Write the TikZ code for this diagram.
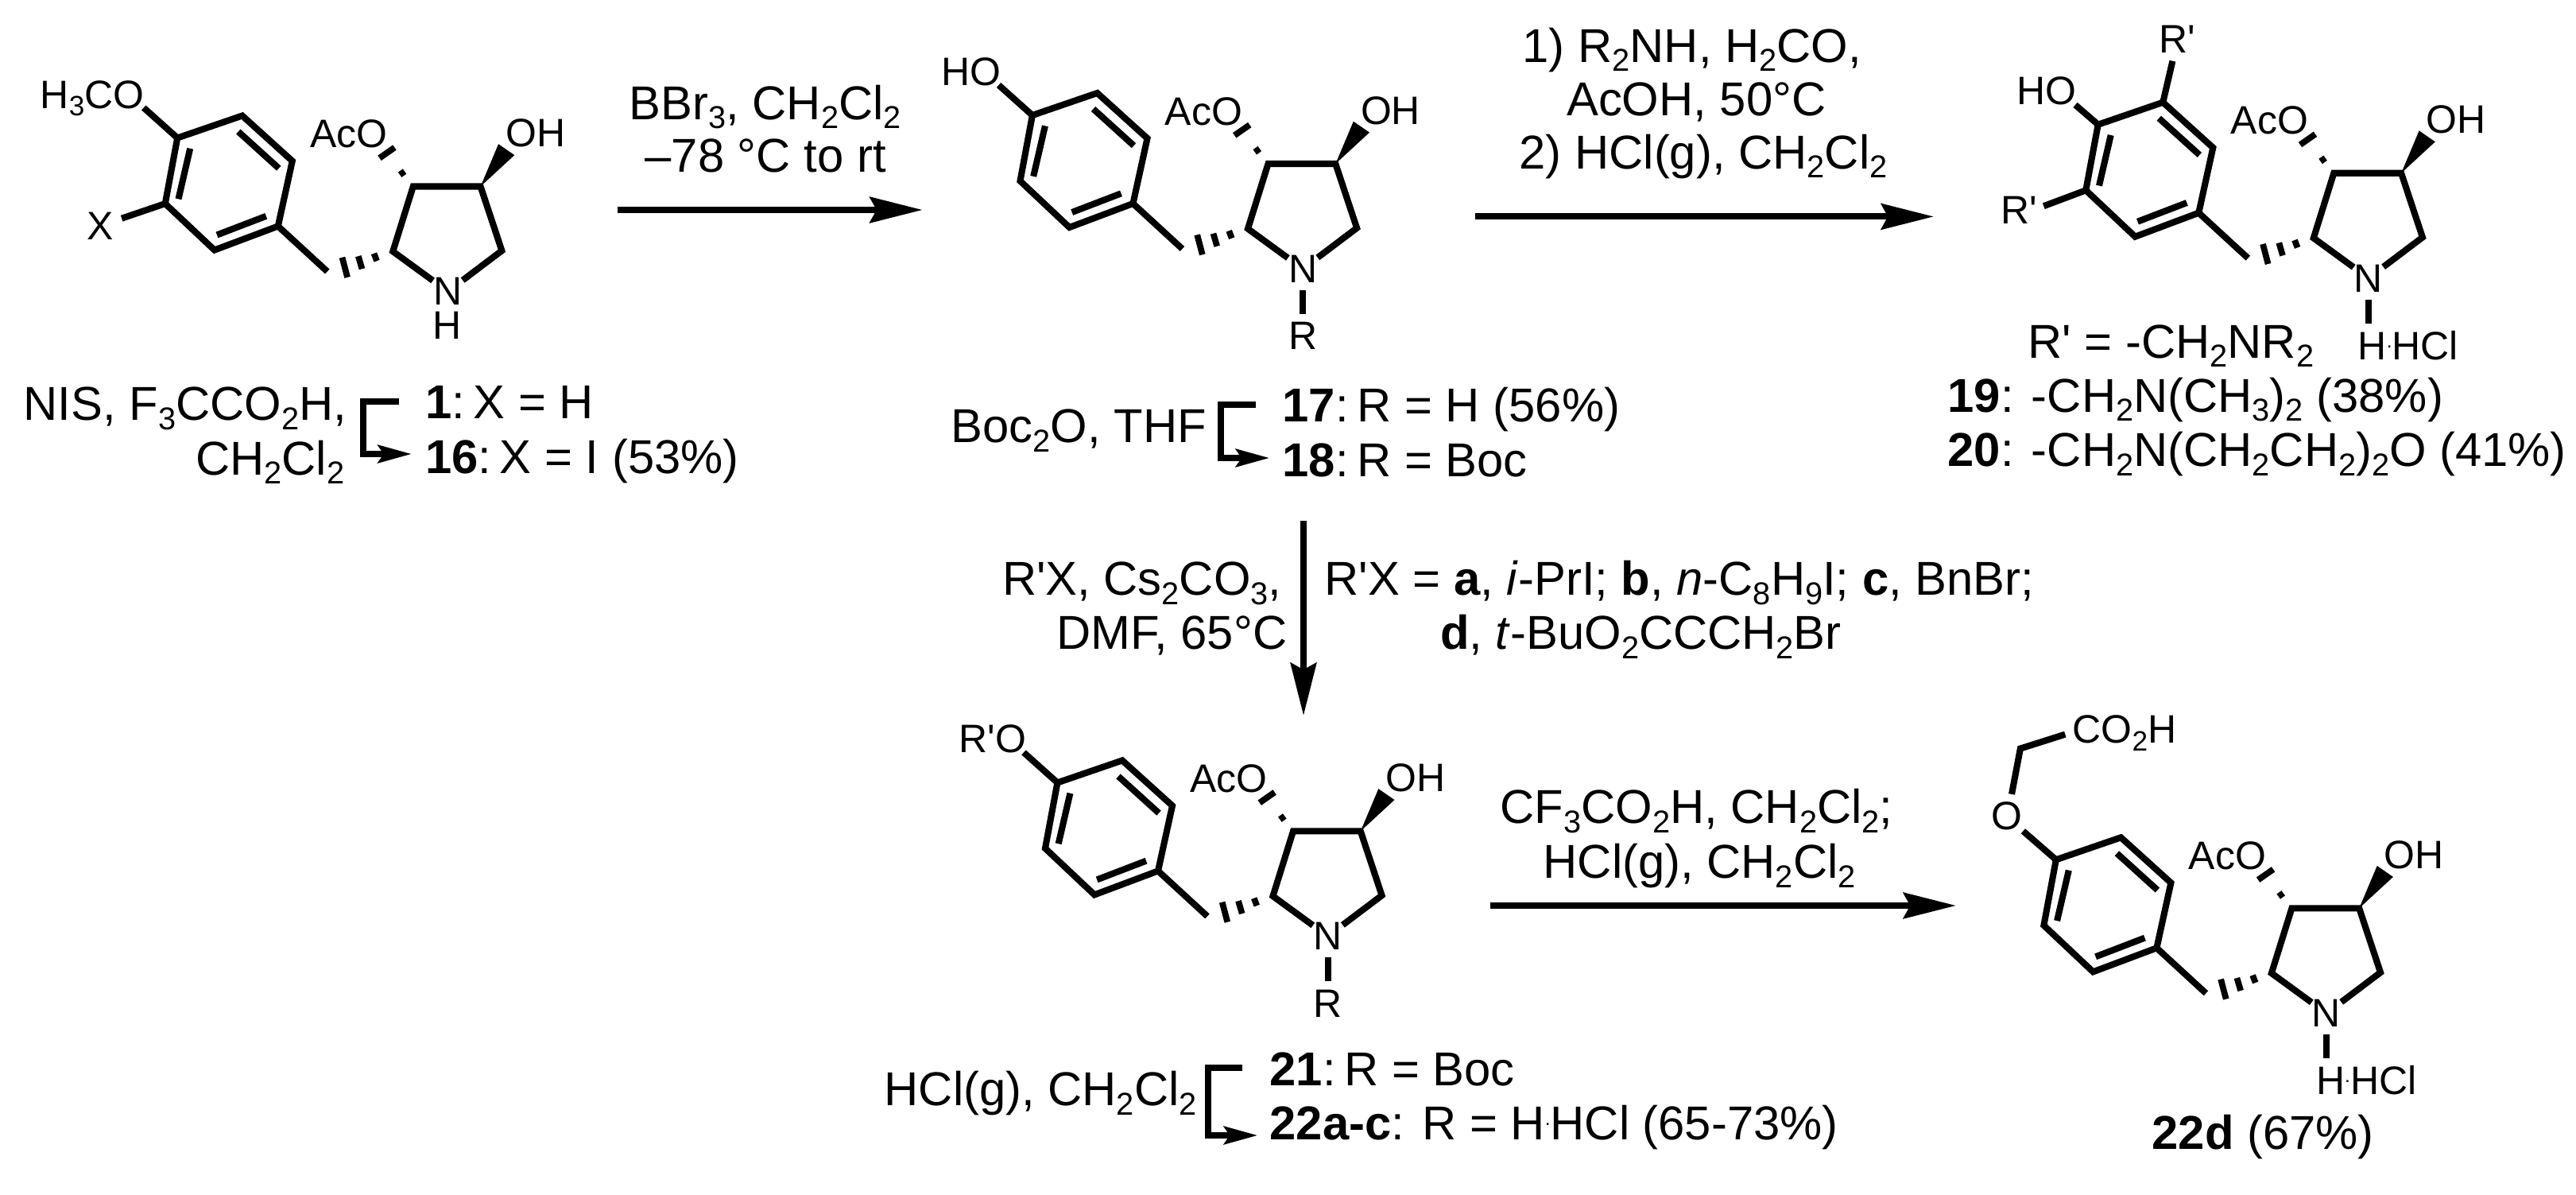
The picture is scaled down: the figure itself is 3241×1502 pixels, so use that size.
\documentclass[tikz,border=0pt]{standalone}
\usepackage{fontspec}
\setmainfont{Liberation Sans}
\usetikzlibrary{arrows.meta}

\newcommand{\lw}[1]{\raisebox{-0.2em}{\fontsize{11.3}{11}\selectfont #1}}
\newcommand{\lwa}[1]{\raisebox{-0.2em}{\fontsize{10}{10}\selectfont #1}}
\newcommand{\prm}{\textquotesingle}
\newcommand{\hdot}{\raisebox{0.3em}{\fontsize{7}{7}\selectfont .}}
\newcommand{\cln}{:\hspace{0.18em}}

\tikzset{
  every node/.style={inner sep=0pt},
  atom/.style={anchor=base, font=\fontsize{14.2}{19}\selectfont},
  atomw/.style={anchor=base west, font=\fontsize{14.2}{19}\selectfont},
  lab/.style={anchor=base west, font=\fontsize{17}{23}\selectfont},
  bond/.style={line width=2.3pt},
  hashb/.style={line width=2.2pt},
  rxn/.style={line width=2.3pt, -{Stealth[length=18.8pt, width=9.2pt, inset=2.4pt]}},
  turn/.style={line width=2.3pt, -{Stealth[length=12pt, width=6.3pt, inset=2pt]}}
}

\begin{document}
\begin{tikzpicture}[x=0.01cm, y=-0.01cm]

\useasboundingbox (0,0) rectangle (3241,1502);

\foreach \m/\cx/\cy in {a/519.8/234.5, b/1595.5/206, c/2936.3/217.7, d/1627/1045.4, e/2883.4/1142.3} {
\begin{scope}[shift={(\cx,\cy)}]
\coordinate (\m-p1) at (0,0);
\coordinate (\m-p2) at (84.8,0);
\coordinate (\m-p3) at (111.6,80.8);
\coordinate (\m-p4) at (-25.5,81.7);
\coordinate (\m-ch) at (-108,107);
\coordinate (\m-r1) at (-296.6,-61);
\coordinate (\m-r2) at (-215,-89);
\coordinate (\m-r3) at (-152,-32);
\coordinate (\m-r4) at (-170,50);
\coordinate (\m-r5) at (-250,80);
\coordinate (\m-r6) at (-312,21.6);
\coordinate (\m-ne) at (43.6,189);
\node[atom] (\m-n) at (43.6,149.3) {N};
\node[atom] (\m-ac) at (-81,-49) {AcO};
\node[atom] (\m-oh) at (154,-50) {OH};

\draw[bond] (\m-n) -- (\m-p4) -- (\m-p1) -- (\m-p2) -- (\m-p3) -- (\m-n);
\draw[bond] (\m-r1) -- (\m-r2) -- (\m-r3) -- (\m-r4) -- (\m-r5) -- (\m-r6) -- cycle;
\draw[bond] (\m-r4) -- (\m-ch);
\draw[bond] (-220,-69) -- (-169,-22.8);
\draw[bond] (-280.6,-47.7) -- (-295.3,15.8);
\draw[bond] (-246.8,61) -- (-185,37.3);
\fill (\m-p2) -- (107.3,-53.3) -- (127.5,-39.4) -- cycle;
\draw[hashb] (-16.7,-14.7) -- (-10.7,-19);
\draw[hashb] (-42.3,-35.7) -- (-23.3,-49);
\draw[hashb] (-49.3,84.3) -- (-45.7,93.7);
\draw[hashb] (-69,87.7) -- (-64.3,103.7);
\draw[hashb] (-89.3,89.3) -- (-82.7,114.3);
\end{scope}
}

\foreach \m in {b,c,d,e} {
\draw[bond, shorten <=2.5pt] (\m-n) -- (\m-ne);
}

\coordinate (ao) at (180.8,135.5);
\coordinate (ax) at (153.1,274.7);
\coordinate (bo) at (1256.5,107);
\coordinate (co) at (2611,131.9);
\coordinate (ct) at (2733.4,76.7);
\coordinate (cx) at (2571.3,259.2);
\coordinate (do) at (1288,946.4);
\coordinate (eo) at (2545.4,1045.3);
\coordinate (eu) at (2531,998.9);
\coordinate (ev) at (2541.9,941.5);
\coordinate (ew) at (2598.3,923.6);

\draw[bond] (a-r1) -- (ao);
\draw[bond] (a-r6) -- (ax);
\draw[bond] (b-r1) -- (bo);
\draw[bond] (c-r1) -- (co);
\draw[bond] (c-r2) -- (ct);
\draw[bond] (c-r6) -- (cx);
\draw[bond] (d-r1) -- (do);
\draw[bond] (e-r1) -- (eo);
\draw[bond] (eu) -- (ev) -- (ew);

\node[atomw] (am) at (50,136) {H\lwa{3}CO};
\node[atom] (xx) at (126,301.4) {X};
\node[atom] (ah) at (563,426) {H};
\node[atomw] (bh) at (1184,107) {HO};
\node[atom] (br) at (1639.5,439.5) {R};
\node[atomw] (chh) at (2537,131) {HO};
\node[atom] (crt) at (2739.4,66.3) {R\prm};
\node[atomw] (crl) at (2517,281) {R\prm};
\node[atomw] (chc) at (2966,452) {H\hdot HCl};
\node[atomw] (dro) at (1206,946.5) {R\prm O};
\node[atom] (dr) at (1671,1279) {R};
\node[atom] (eoo) at (2525,1043.4) {O};
\node[atomw] (eco) at (2607,934.4) {CO\lwa{2}H};
\node[atomw] (ehc) at (2913.4,1376) {H\hdot HCl};

\node[lab] (ta1) at (29,528.6) {NIS, F\lw{3}CCO\lw{2}H,};
\node[lab] (ta2) at (245.5,597) {CH\lw{2}Cl\lw{2}};
\node[lab] (ta3) at (534.4,526.5) {\textbf{1}\cln X = H};
\node[lab] (ta4) at (534.4,595) {\textbf{16}\cln X = I (53\%)};
\node[lab] (ra1) at (791,150) {BBr\lw{3}, CH\lw{2}Cl\lw{2}};
\node[lab] (ra2) at (811,216.4) {–78 °C to rt};

\node[lab] (tb1) at (1196,556.8) {Boc\lw{2}O, THF};
\node[lab] (tb2) at (1613,530.7) {\textbf{17}\cln R = H (56\%)};
\node[lab] (tb3) at (1613,599) {\textbf{18}\cln R = Boc};
\node[lab] (rb1) at (1915,78) {1) R\lw{2}NH, H\lw{2}CO,};
\node[lab] (rb2) at (1970.5,145) {AcOH, 50°C};
\node[lab] (rb3) at (1911,212) {2) HCl(g), CH\lw{2}Cl\lw{2}};

\node[lab] (tc1) at (2551,450) {R\prm{} = -CH\lw{2}NR\lw{2}};
\node[lab] (tc2) at (2450,518) {\textbf{19}: -CH\lw{2}N(CH\lw{3})\lw{2} (38\%)};
\node[lab] (tc3) at (2450,586.7) {\textbf{20}: -CH\lw{2}N(CH\lw{2}CH\lw{2})\lw{2}O (41\%)};

\node[lab] (rc1) at (1260.4,748.3) {R\prm X, Cs\lw{2}CO\lw{3},};
\node[lab] (rc2) at (1329,816.7) {DMF, 65°C};
\node[lab] (rc3) at (1666,748.3) {R\prm X = \textbf{a}, \textit{i}-PrI; \textbf{b}, \textit{n}-C\lw{8}H\lw{9}I; \textbf{c}, BnBr;};
\node[lab] (rc4) at (1811.4,816.7) {\textbf{d}, \textit{t}-BuO\lw{2}CCCH\lw{2}Br};

\node[lab] (td1) at (1112,1390.5) {HCl(g), CH\lw{2}Cl\lw{2}};
\node[lab] (td2) at (1597,1365.6) {\textbf{21}\cln R = Boc};
\node[lab] (td3) at (1597,1433.4) {\textbf{22a-c}: R = H\hdot HCl (65-73\%)};
\node[lab] (rd1) at (1887,1035.9) {CF\lw{3}CO\lw{2}H, CH\lw{2}Cl\lw{2};};
\node[lab] (rd2) at (1941,1104.5) {HCl(g), CH\lw{2}Cl\lw{2}};
\node[lab] (te1) at (2707,1445.4) {\textbf{22d} (67\%)};

\coordinate (s1) at (777,264);
\coordinate (e1) at (1160.6,264);
\coordinate (s2) at (1856,272.4);
\coordinate (e2) at (2433,272.4);
\coordinate (s3) at (1640,655);
\coordinate (e3) at (1640,900);
\coordinate (s4) at (1875,1139);
\coordinate (e4) at (2461,1139);

\draw[rxn] (s1) -- (e1);
\draw[rxn] (s2) -- (e2);
\draw[rxn] (s3) -- (e3);
\draw[rxn] (s4) -- (e4);

\coordinate (t1a) at (502,505);
\coordinate (t1b) at (457,505);
\coordinate (t1c) at (457,571);
\coordinate (t1d) at (518,571);
\coordinate (t2a) at (1580,509);
\coordinate (t2b) at (1535.6,509);
\coordinate (t2c) at (1535.6,576);
\coordinate (t2d) at (1597.4,576);
\coordinate (t3a) at (1563,1343);
\coordinate (t3b) at (1520,1343);
\coordinate (t3c) at (1520,1428);
\coordinate (t3d) at (1582.5,1428);

\draw[turn] (t1a) -- (t1b) -- (t1c) -- (t1d);
\draw[turn] (t2a) -- (t2b) -- (t2c) -- (t2d);
\draw[turn] (t3a) -- (t3b) -- (t3c) -- (t3d);

\end{tikzpicture}
\end{document}
